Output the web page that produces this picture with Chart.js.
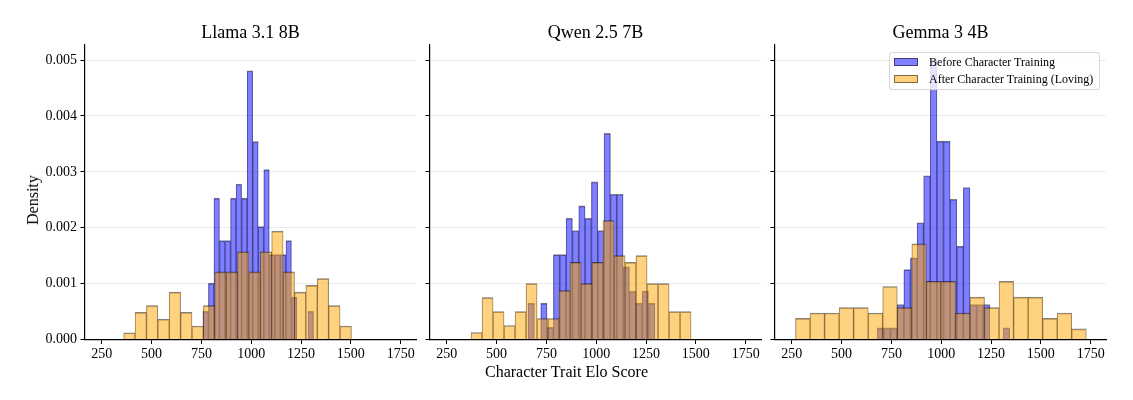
<!DOCTYPE html>
<html>
<head>
<meta charset="utf-8">
<script src="https://cdn.jsdelivr.net/npm/chart.js@4.4.1/dist/chart.umd.min.js"></script>
<style>
html,body{margin:0;padding:0;background:#fff;}
#wrap{position:relative;width:1133px;height:400px;overflow:hidden;font-family:'Liberation Serif','Times New Roman',serif;color:#000;}
.panel{position:absolute;top:0;width:430px;height:400px;}
.panel canvas{display:block;}
#ylab{position:absolute;left:33px;top:200px;transform:translate(-50%,-50%) rotate(-90deg);font-size:16px;white-space:nowrap;}
#xlab{position:absolute;left:566.5px;top:372px;transform:translate(-50%,-50%);font-size:16px;white-space:nowrap;}
#legend{position:absolute;left:889px;top:52px;width:211px;height:38px;box-sizing:border-box;background:rgba(255,255,255,0.8);border:1px solid rgba(204,204,204,0.8);border-radius:3px;z-index:5;}
.lrow{position:absolute;left:0;height:16px;width:100%;}
.lpatch{position:absolute;left:4px;top:3.8px;width:24px;height:8.4px;box-sizing:border-box;border:1px solid rgba(0,0,0,0.5);}
.ltext{position:absolute;left:39px;top:0;line-height:16px;font-size:12px;white-space:nowrap;}
</style>
</head>
<body>
<div id="wrap">
  <div class="panel" style="left:0px"><canvas id="c0" width="430" height="400"></canvas></div>
  <div class="panel" style="left:345px"><canvas id="c1" width="430" height="400"></canvas></div>
  <div class="panel" style="left:690px"><canvas id="c2" width="430" height="400"></canvas></div>
  <div id="ylab">Density</div>
  <div id="xlab">Character Trait Elo Score</div>
  <div id="legend"></div>
</div>
<script>
// ---------------- data ----------------
const modelNames = ['Llama 3.1 8B', 'Qwen 2.5 7B', 'Gemma 3 4B'];
const seriesNames = ['Before Character Training', 'After Character Training (Loving)'];
const xTickValues = [250, 500, 750, 1000, 1250, 1500, 1750];
const yTickValues = [0, 0.001, 0.002, 0.003, 0.004, 0.005];
const yAxisTitle = 'Density';
const xAxisTitle = 'Character Trait Elo Score';

// histogram bin ranges [first edge, last edge] (20 bins each)
const llamaBeforeRange = [757.5, 1313];
const llamaAfterRange = [360, 1503];
const qwenBeforeRange = [658, 1294];
const qwenAfterRange = [372, 1476];
const gemmaBeforeRange = [679.6, 1343.6];
const gemmaAfterRange = [269, 1728];

// densities per bin
const llamaBefore = [0.000506, 0.00101, 0.00253, 0.00177, 0.00177, 0.00253, 0.00278, 0.00253, 0.00481, 0.00354,
                     0.00202, 0.00304, 0.00152, 0.00152, 0.00152, 0.00177, 0.00076, 0, 0, 0.000506];
const llamaAfter = [0.000121, 0.000484, 0.000605, 0.000363, 0.000847, 0.000484, 0.000242, 0.000605, 0.00121, 0.00121,
                    0.00157, 0.00121, 0.00157, 0.00194, 0.00121, 0.000847, 0.000968, 0.00109, 0.000605, 0.000242];
const qwenBefore = [0.000651, 0, 0.000651, 0.000217, 0.00152, 0.00152, 0.00217, 0.00195, 0.00239, 0.00217,
                    0.00282, 0.00195, 0.00369, 0.0026, 0.0026, 0.0013, 0.000868, 0.000651, 0.000868, 0.000651];
const qwenAfter = [0.000125, 0.00075, 0.0005, 0.00025, 0.0005, 0.001, 0.000375, 0.000375, 0.000875, 0.00138,
                   0.001, 0.00138, 0.00213, 0.0015, 0.00138, 0.0015, 0.001, 0.001, 0.0005, 0.0005];
const gemmaBefore = [0.000209, 0.000209, 0.000209, 0.000627, 0.00125, 0.00146, 0.00209, 0.00293, 0.00502, 0.00355,
                     0.00355, 0.00251, 0.00167, 0.00272, 0.000627, 0.000627, 0.000627, 0, 0, 0.000209];
const gemmaAfter = [0.000379, 0.000474, 0.000474, 0.000569, 0.000569, 0.000474, 0.000948, 0.000569, 0.00171, 0.00104,
                    0.00104, 0.000474, 0.000758, 0.000569, 0.00104, 0.000758, 0.000758, 0.000379, 0.000474, 0.00019];

// axis limits
const xLimits = [166, 1827];
const yLimits = [0, 0.00527];

// ---------------- styling ----------------
const SERIF = "'Liberation Serif', 'Times New Roman', serif";
const beforeFill = 'rgba(0,0,255,0.5)';
const afterFill = 'rgba(255,165,0,0.5)';
const edgeColor = 'rgba(0,0,0,0.5)';

const panels = [
  {before: llamaBefore, beforeRange: llamaBeforeRange, after: llamaAfter, afterRange: llamaAfterRange},
  {before: qwenBefore, beforeRange: qwenBeforeRange, after: qwenAfter, afterRange: qwenAfterRange},
  {before: gemmaBefore, beforeRange: gemmaBeforeRange, after: gemmaAfter, afterRange: gemmaAfterRange}
];

function binPoints(range, dens) {
  const n = dens.length;
  const w = (range[1] - range[0]) / n;
  return dens.map((d, i) => ({x: range[0] + w * (i + 0.5), y: d}));
}

function xScale(display) {
  return {
    type: 'linear',
    display: display,
    min: xLimits[0], max: xLimits[1],
    offset: false,
    grid: {display: true, offset: false, drawOnChartArea: false, drawTicks: true, tickLength: 4.5, tickColor: '#000', tickWidth: 1},
    border: {display: true, color: '#000', width: 1.2},
    afterBuildTicks: s => { s.ticks = xTickValues.map(v => ({value: v})); },
    ticks: {
      autoSkip: false, maxRotation: 0, padding: 2,
      color: '#000', font: {family: SERIF, size: 14},
      callback: v => String(v)
    },
    afterFit: s => { s.height = 60.5; }
  };
}

const barStyle = {
  borderColor: edgeColor,
  borderWidth: {top: 1, left: 0.5, right: 0.5, bottom: 0},
  borderSkipped: false,
  barPercentage: 1, categoryPercentage: 1,
  grouped: false
};

panels.forEach((p, idx) => {
  const ctx = document.getElementById('c' + idx);
  new Chart(ctx, {
    type: 'bar',
    data: {
      datasets: [
        Object.assign({
          label: seriesNames[1],
          data: binPoints(p.afterRange, p.after),
          xAxisID: 'xa',
          backgroundColor: afterFill,
          order: 0
        }, barStyle),
        Object.assign({
          label: seriesNames[0],
          data: binPoints(p.beforeRange, p.before),
          xAxisID: 'x',
          backgroundColor: beforeFill,
          order: 1
        }, barStyle)
      ]
    },
    options: {
      responsive: false,
      animation: false,
      devicePixelRatio: 1,
      layout: {padding: {left: 0, right: 14, top: 0, bottom: 0}},
      plugins: {
        legend: {display: false},
        tooltip: {enabled: false},
        title: {
          display: true, text: modelNames[idx], fullSize: false,
          color: '#000', font: {family: SERIF, size: 18, weight: 'normal', lineHeight: 1.2},
          padding: {top: 22.2, bottom: 1.2}
        }
      },
      scales: {
        x: xScale(true),
        xa: Object.assign(xScale(false), {afterFit: s => { s.height = 0; }}),
        y: {
          type: 'linear',
          min: yLimits[0], max: yLimits[1],
          grid: {display: true, color: '#e7e7e7', lineWidth: 0.8, drawTicks: true, tickLength: 4.5, tickColor: '#000', tickWidth: 1},
          border: {display: true, color: '#000', width: 1.2},
          afterBuildTicks: s => { s.ticks = yTickValues.map(v => ({value: v})); },
          ticks: {
            autoSkip: false, padding: 3.5,
            color: '#000', font: {family: SERIF, size: 14},
            callback: v => idx === 0 ? v.toFixed(3) : ''
          },
          afterFit: s => { s.width = 85; }
        }
      }
    }
  });
});

// HTML legend (panel 3, upper right)
const legendEl = document.getElementById('legend');
const legendFills = [beforeFill, afterFill];
const rowTops = [1, 18.3];
seriesNames.forEach((name, i) => {
  const row = document.createElement('div');
  row.className = 'lrow';
  row.style.top = rowTops[i] + 'px';
  const patch = document.createElement('div');
  patch.className = 'lpatch';
  patch.style.background = legendFills[i];
  const txt = document.createElement('div');
  txt.className = 'ltext';
  txt.textContent = name;
  row.appendChild(patch);
  row.appendChild(txt);
  legendEl.appendChild(row);
});
document.getElementById('ylab').textContent = yAxisTitle;
document.getElementById('xlab').textContent = xAxisTitle;
</script>
</body>
</html>
